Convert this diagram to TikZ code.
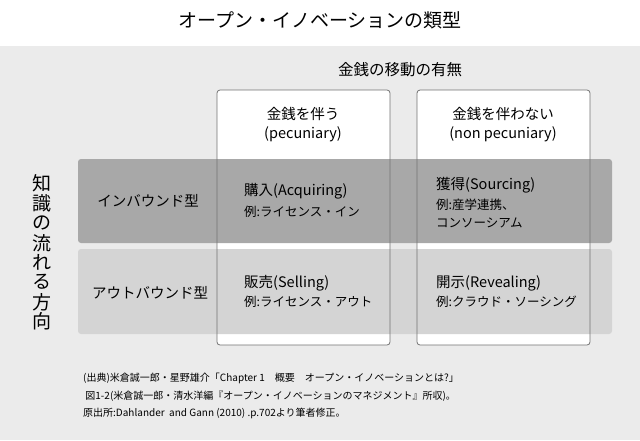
\documentclass[tikz,border=0pt]{standalone}
\usepackage{fontspec}
\setmainfont{Noto Sans CJK JP}
\begin{document}
\begin{tikzpicture}[x=1pt,y=-1pt,
  t/.style={inner sep=0pt,font=\fontsize{14.5}{16}\selectfont},
  s/.style={inner sep=0pt,font=\fontsize{12.5}{14}\selectfont,anchor=west},
  f/.style={inner sep=0pt,font=\fontsize{10}{12}\selectfont,anchor=west}]
\useasboundingbox (0,0) rectangle (640,440);
\fill[white] (0,0) rectangle (640,46);
\fill[black!8] (0,46) rectangle (640,440);
\node[t,font=\fontsize{19}{21}\selectfont] (title) at (320,20) {オープン・イノベーションの類型};
\node[t,font=\fontsize{15.5}{17}\selectfont] (money) at (400,70) {金銭の移動の有無};
\foreach \x in {217,417}{\fill[white,rounded corners=3] (\x,90) rectangle (\x+173,345);}
\fill[black!34,rounded corners=3] (78,159) rectangle (612,243);
\fill[black!17,rounded corners=3] (78,249) rectangle (612,334);
\foreach \x in {217,417}{\draw[black!55,rounded corners=3,line width=0.8] (\x,90) rectangle (\x+173,345);}
\node[t] (h1a) at (303,114) {金銭を伴う};
\node[t] (h1b) at (303,134) {(pecuniary)};
\node[t] (h2a) at (503,114) {金銭を伴わない};
\node[t] (h2b) at (503,134) {(non pecuniary)};
\node[t] (r1) at (148,201) {インバウンド型};
\node[t] (r2) at (150,293) {アウトバウンド型};
\node[t,anchor=west] (c1) at (244,191) {購入(Acquiring)};
\node[s] (c1e) at (244,212) {例:ライセンス・イン};
\node[t,anchor=west] (c2) at (436,185) {獲得(Sourcing)};
\node[s] (c2e) at (436,205) {例:産学連携、};
\node[s] (c2f) at (436,223) {コンソーシアム};
\node[t,anchor=west] (c3) at (244,283) {販売(Selling)};
\node[s] (c3e) at (244,302) {例:ライセンス・アウト};
\node[t,anchor=west] (c4) at (436,283) {開示(Revealing)};
\node[s] (c4e) at (436,302) {例:クラウド・ソーシング};
\foreach \c [count=\i] in {知,識,の,流,れ,る,方,向}{
  \node[inner sep=0pt,font=\fontsize{19}{21}\selectfont] (v\i) at (42,164+19.7*\i) {\c};}
\node[f] (n1) at (83,378) {(出典)米倉誠一郎・星野雄介「Chapter 1\quad 概要\quad オープン・イノベーションとは?」};
\node[f] (n2) at (83,396) {\ 図1-2(米倉誠一郎・清水洋編『オープン・イノベーションのマネジメント』所収)。};
\node[f] (n3) at (83,413) {原出所:Dahlander\ \ and Gann (2010) .p.702より筆者修正。};
\end{tikzpicture}
\end{document}
